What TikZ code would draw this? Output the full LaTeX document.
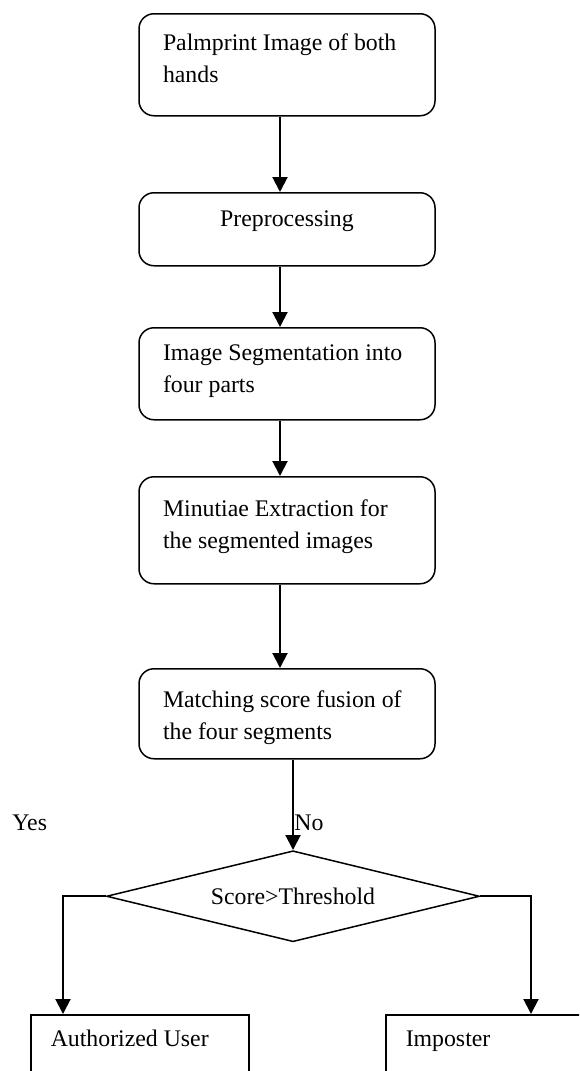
\documentclass[tikz,border=0pt]{standalone}
\usepackage{fontspec}
\setmainfont{Liberation Serif}
\usetikzlibrary{arrows.meta,positioning,shapes.geometric}

\begin{document}
\begin{tikzpicture}[
  x=0.5pt, y=-0.5pt,
  font=\fontsize{11.9pt}{16pt}\selectfont,
  stage/.style={draw, line width=0.75pt, rounded corners=7.5pt, minimum width=148pt, text width=124pt, inner xsep=12pt, align=flush left},
  outcome/.style={draw, line width=0.75pt, anchor=north west, minimum width=109pt, text width=89pt, inner xsep=10pt, inner ysep=0pt, text height=16pt, text depth=40pt, align=flush left},
  decision/.style={diamond, draw, line width=0.75pt, aspect=4.1, minimum width=186.5pt, minimum height=45.5pt, inner sep=0pt},
  flow/.style={-{Triangle[length=7.5pt, width=7.5pt]}, line width=1pt},
  tag/.style={anchor=west, inner sep=0pt}
]
\useasboundingbox (0,0) rectangle (579,1071);
\clip (0,0) rectangle (579,1071);

\node[stage, minimum height=51pt, text depth=23pt, anchor=north] (pal) at (287,13) {Palmprint Image of both\\hands};
\node[stage, minimum height=36.5pt, text depth=10.6pt, below=37.75pt of pal, align=center] (pre) {Preprocessing};
\node[stage, minimum height=46pt, text depth=21.6pt, below=30.25pt of pre] (seg) {Image Segmentation into\\four parts};
\node[stage, minimum height=53.5pt, text depth=22.6pt, below=27.75pt of seg] (minu) {Minutiae Extraction for\\the segmented images};
\node[stage, minimum height=45pt, text depth=14.6pt, below=41.75pt of minu] (mat) {Matching score fusion of\\the four segments};
\node[decision, below=45.25pt of mat, xshift=3pt] (score) {Score>Threshold};

\node[tag] (yes) at (12,823) {Yes};
\node[tag] (no) at (294,823) {No};

\node[outcome] (auth) at (30,1014) {Authorized User};
\node[outcome] (imp) at (385,1014) {Imposter};

\coordinate (mainline) at (280,0);
\coordinate (leftdrop) at (63,0);
\coordinate (rightdrop) at (531,0);

% main chain
\draw[flow] (pal.south -| mainline) -- (pre.north -| mainline);
\draw[flow] (pre.south -| mainline) -- (seg.north -| mainline);
\draw[flow] (seg.south -| mainline) -- (minu.north -| mainline);
\draw[flow] (minu.south -| mainline) -- (mat.north -| mainline);
\draw[flow] (mat.south -| score.north) -- (score.north);

% decision
\draw[flow] (score.west) -| (auth.north -| leftdrop);
\draw[flow] (score.east) -| (imp.north -| rightdrop);
\end{tikzpicture}
\end{document}
